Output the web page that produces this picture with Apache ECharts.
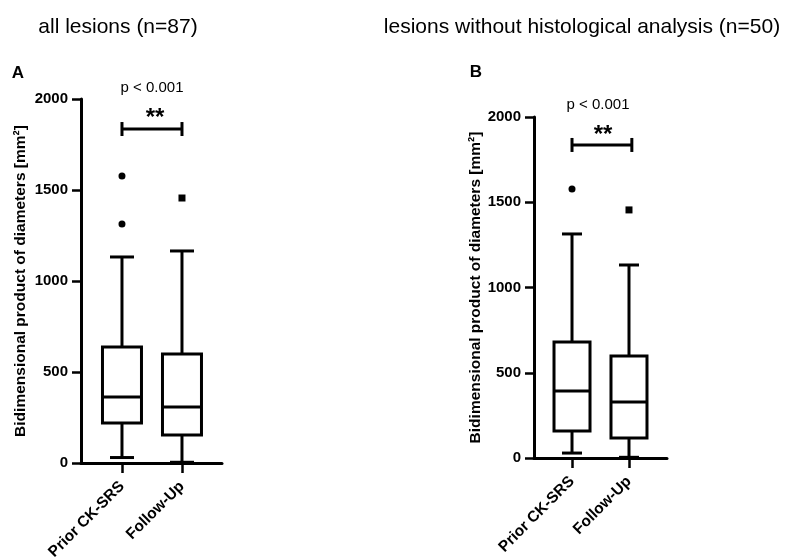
<!DOCTYPE html>
<html>
<head>
<meta charset="utf-8">
<script src="https://cdn.jsdelivr.net/npm/echarts@6/dist/echarts.min.js"></script>
<style>
  html, body { margin: 0; padding: 0; background: #fff; }
  #chart { width: 790px; height: 557px; }
</style>
</head>
<body>
<div id="chart"></div>
<script>
// groups on the x axis
const categories = ["Prior CK-SRS", "Follow-Up"];
const yTicks = [0, 500, 1000, 1500, 2000];

// [x, min, Q1, median, Q3, max]
const boxesA = [
  [0, 30, 220, 363, 637, 1132],
  [1, 4, 154, 308, 599, 1165]
];
const outliersPriorA = [[0, 1577], [0, 1313]];
const outliersFollowA = [[1, 1456]];
const bracketA = [[0, 1835], [1, 1835]];

const boxesB = [
  [0, 29, 158, 393, 680, 1314],
  [1, 4, 117, 328, 598, 1132]
];
const outliersPriorB = [[0, 1578]];
const outliersFollowB = [[1, 1455]];
const bracketB = [[0, 1836], [1.05, 1836]];

const FONT = "'Liberation Sans', Arial, sans-serif";
const BLACK = "#000";

function boxRenderer(halfBox, halfCap) {
  return function (params, api) {
    const x = api.value(0);
    const pt = v => api.coord([x, v]);
    const pMin = pt(api.value(1)), pQ1 = pt(api.value(2)), pMed = pt(api.value(3));
    const pQ3 = pt(api.value(4)), pMax = pt(api.value(5));
    const cx = pMed[0];
    const st = { stroke: BLACK, lineWidth: 3, fill: null };
    return {
      type: "group",
      children: [
        { type: "line", shape: { x1: cx, y1: pQ3[1], x2: cx, y2: pMax[1] }, style: st },
        { type: "line", shape: { x1: cx, y1: pQ1[1], x2: cx, y2: pMin[1] }, style: st },
        { type: "line", shape: { x1: cx - halfCap, y1: pMax[1], x2: cx + halfCap, y2: pMax[1] }, style: st },
        { type: "line", shape: { x1: cx - halfCap, y1: pMin[1], x2: cx + halfCap, y2: pMin[1] }, style: st },
        { type: "rect", shape: { x: cx - halfBox, y: pQ3[1], width: halfBox * 2, height: pQ1[1] - pQ3[1] },
          style: { stroke: BLACK, lineWidth: 3, fill: "#fff" } },
        { type: "line", shape: { x1: cx - halfBox, y1: pMed[1], x2: cx + halfBox, y2: pMed[1] }, style: st }
      ]
    };
  };
}

function xAxisFor(idx, min, max) {
  return {
    type: "value",
    gridIndex: idx,
    min: min,
    max: max,
    axisLine: { show: true, onZero: false, lineStyle: { color: BLACK, width: 3 } },
    axisTick: { show: true, length: 10, lineStyle: { color: BLACK, width: 2.5 }, customValues: [0, 1] },
    axisLabel: {
      customValues: [0, 1],
      formatter: v => categories[Math.round(v)],
      rotate: 45,
      margin: 21,
      color: BLACK,
      fontFamily: FONT,
      fontWeight: "bold",
      fontSize: 15.5
    },
    splitLine: { show: false }
  };
}

function yAxisFor(idx, gap) {
  return {
    type: "value",
    gridIndex: idx,
    min: 0,
    max: 2000,
    interval: 500,
    name: "Bidimensional product of diameters [mm²]",
    nameLocation: "middle",
    nameGap: gap,
    nameTextStyle: { color: BLACK, fontFamily: FONT, fontWeight: "bold", fontSize: 15.5 },
    axisLine: { show: true, onZero: false, lineStyle: { color: BLACK, width: 3 } },
    axisTick: { show: true, length: 9, lineStyle: { color: BLACK, width: 2.5 } },
    axisLabel: {
      margin: 13,
      color: BLACK,
      fontFamily: FONT,
      fontWeight: "bold",
      fontSize: 15,
      formatter: v => (yTicks.indexOf(v) >= 0 ? String(v) : "")
    },
    splitLine: { show: false }
  };
}

function panelSeries(idx, boxes, halfBox, halfCap, priorOut, followOut, bracket) {
  return [
    {
      type: "custom",
      xAxisIndex: idx,
      yAxisIndex: idx,
      renderItem: boxRenderer(halfBox, halfCap),
      encode: { x: 0, y: [1, 2, 3, 4, 5] },
      data: boxes,
      z: 3
    },
    {
      type: "scatter",
      xAxisIndex: idx,
      yAxisIndex: idx,
      symbol: "circle",
      symbolSize: 7,
      itemStyle: { color: BLACK, opacity: 1 },
      data: priorOut
    },
    {
      type: "scatter",
      xAxisIndex: idx,
      yAxisIndex: idx,
      symbol: "rect",
      symbolSize: 7,
      itemStyle: { color: BLACK, opacity: 1 },
      data: followOut
    },
    {
      type: "line",
      xAxisIndex: idx,
      yAxisIndex: idx,
      data: bracket,
      symbol: "rect",
      symbolSize: [3, 14],
      showSymbol: true,
      itemStyle: { color: BLACK },
      lineStyle: { color: BLACK, width: 3 },
      animation: false
    }
  ];
}

function textEl(text, x, y, size, weight) {
  return {
    type: "text",
    x: x,
    y: y,
    style: {
      text: text,
      fill: BLACK,
      font: weight + " " + size + "px " + FONT,
      align: "center",
      verticalAlign: "middle"
    }
  };
}

const chart = echarts.init(document.getElementById("chart"));
chart.setOption({
  animation: false,
  backgroundColor: "#fff",
  title: [
    { text: "all lesions (n=87)", left: 113, top: 22, textAlign: "center", textVerticalAlign: "middle",
      textStyle: { fontFamily: FONT, fontWeight: "normal", fontSize: 21, color: BLACK } },
    { text: "lesions without histological analysis (n=50)", left: 577, top: 22, textAlign: "center", textVerticalAlign: "middle",
      textStyle: { fontFamily: FONT, fontWeight: "normal", fontSize: 21, color: BLACK } }
  ],
  grid: [
    { left: 81, top: 99, width: 141, height: 364, outerBoundsMode: "none" },
    { left: 534, top: 117, width: 133, height: 341, outerBoundsMode: "none" }
  ],
  xAxis: [xAxisFor(0, -0.683, 1.667), xAxisFor(1, -0.667, 1.667)],
  yAxis: [yAxisFor(0, 52), yAxisFor(1, 48)],
  series: [].concat(
    panelSeries(0, boxesA, 19.5, 12, outliersPriorA, outliersFollowA, bracketA),
    panelSeries(1, boxesB, 18, 10, outliersPriorB, outliersFollowB, bracketB)
  ),
  graphic: [
    textEl("A", 18, 73, 17, "bold"),
    textEl("B", 476, 72, 17, "bold"),
    textEl("p < 0.001", 152, 88, 15, "normal"),
    textEl("p < 0.001", 598, 105, 15, "normal"),
    textEl("**", 155, 118, 24, "bold"),
    textEl("**", 603, 135, 24, "bold")
  ]
});
</script>
</body>
</html>
